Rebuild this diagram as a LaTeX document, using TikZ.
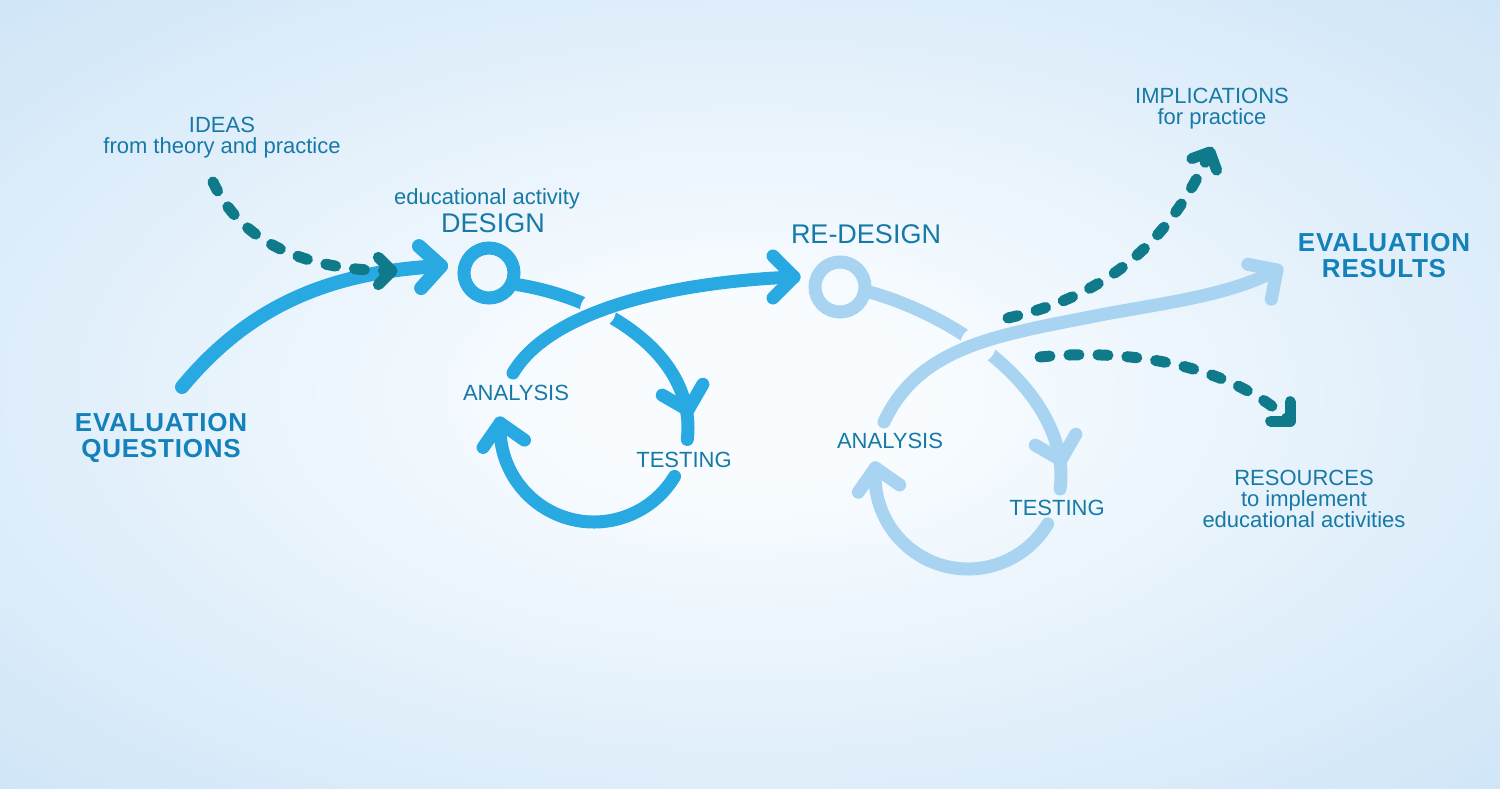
\documentclass[tikz,border=0pt]{standalone}
\usepackage{fontspec}
\setmainfont{Liberation Sans}
\usetikzlibrary{positioning}

\definecolor{bluearr}{HTML}{29A9E1}
\definecolor{lightarr}{HTML}{A8D4F2}
\definecolor{darkdash}{HTML}{0E7A8A}
\definecolor{txt}{HTML}{1679A6}
\definecolor{boldtxt}{HTML}{1381BA}
\definecolor{bgin}{HTML}{F8FCFF}
\definecolor{bgout}{HTML}{CFE5F7}
\pgfdeclareradialshading{backdrop}{\pgfpoint{0bp}{0bp}}{color(0bp)=(bgin); color(6bp)=(bgin); color(36bp)=(bgout); color(50bp)=(bgout)}

\begin{document}
\begin{tikzpicture}[
    x=1pt, y=-1pt,
    flow/.style={line width=14pt, line cap=round, draw=bluearr},
    loopline/.style={line width=13pt, line cap=round},
    dashline/.style={draw=darkdash, line width=11pt, line cap=round, dash pattern=on 10pt off 19pt},
    ring/.style={circle, draw, line width=13pt, minimum size=50pt, inner sep=0pt},
    lbl/.style={font=\fontsize{22}{21}\selectfont, text=txt, inner sep=0pt, align=center},
    head/.style={font=\fontsize{27}{29}\selectfont, text=txt, inner sep=0pt},
    result/.style={font=\fontsize{26}{26}\selectfont\bfseries\addfontfeature{LetterSpace=3}, text=boldtxt, inner sep=0pt, align=center},
    chev/.pic={\draw[line cap=round, line join=round] (-21,-21) -- (0,0) -- (-21,21);}
  ]
    % Background
    \shade[shading=backdrop] (0,0) rectangle (1500,789);

    % Rings
    \node[ring, draw=bluearr] (designring) at (489,273) {};
    \node[ring, draw=lightarr] (redesignring) at (840,287) {};

    % Coordinates
    \coordinate (qstart) at (182,387);
    \coordinate (qtip) at (441,266);
    \coordinate (istart) at (213,182);
    \coordinate (itip) at (392,271);
    \coordinate (lcen) at (594,428);
    \coordinate (dstart) at (513,373);
    \coordinate (dtip) at (794,277);
    \coordinate (rcen) at (968,476);
    \coordinate (jstart) at (884,422);
    \coordinate (jmid) at (1100,315);
    \coordinate (jtip) at (1277,270);
    \coordinate (pstart) at (1008,318);
    \coordinate (ptip) at (1210,152);
    \coordinate (sstart) at (1040,357);
    \coordinate (stip) at (1290,421);

    % Evaluation questions -> design
    \draw[flow] (qstart) .. controls (250,305) and (330,272) .. (qtip);
    \pic[bluearr, line width=14pt, rotate=3] at (qtip) {chev};

    % First loop (under the re-design line)
    \begin{scope}[even odd rule]
      \clip (0,0) rectangle (1500,789) (598,310) circle[radius=18];
      \draw[loopline, bluearr] (designring.-22) .. controls (600,298) and (688,350) .. (688,428)
        arc[start angle=0, end angle=7, radius=94];
    \end{scope}
    \draw[loopline, bluearr] ([shift={(31:94)}]lcen) arc[start angle=31, end angle=183, radius=94] coordinate (ltipa);
    \pic[bluearr, line width=13pt, rotate=-75] at (688,410) {chev};
    \pic[bluearr, line width=13pt, rotate=100] at (ltipa) {chev};

    % Analysis -> re-design
    \draw[loopline, bluearr] (dstart) .. controls (545,318) and (650,283) .. (dtip);
    \pic[bluearr, line width=13pt] at (dtip) {chev};

    % Second loop (under the results line)
    \begin{scope}[even odd rule]
      \clip (0,0) rectangle (1500,789) (978,345) circle[radius=18];
      \draw[loopline, lightarr] (redesignring.-10) .. controls (960,318) and (1061,390) .. (1061,476)
        arc[start angle=0, end angle=8, radius=93];
    \end{scope}
    \draw[loopline, lightarr] ([shift={(31:93)}]rcen) arc[start angle=31, end angle=185, radius=93] coordinate (rtipa);
    \pic[lightarr, line width=13pt, rotate=-75] at (1061,460) {chev};
    \pic[lightarr, line width=13pt, rotate=100] at (rtipa) {chev};

    % Analysis -> evaluation results
    \draw[loopline, lightarr] (jstart) .. controls (920,345) and (1000,335) .. (jmid)
      .. controls (1170,302) and (1230,295) .. (jtip);
    \pic[lightarr, line width=13pt, rotate=34] at (jtip) {chev};

    % Dashed inputs and outputs
    \draw[dashline] (istart) .. controls (240,240) and (300,270) .. (itip);
    \pic[darkdash, line width=11pt, scale=0.65] at (itip) {chev};
    \draw[dashline] (pstart) .. controls (1110,295) and (1170,240) .. (ptip);
    \pic[darkdash, line width=11pt, scale=0.65, rotate=65] at (ptip) {chev};
    \draw[dashline] (sstart) .. controls (1130,348) and (1230,365) .. (stip);
    \pic[darkdash, line width=11pt, scale=0.65, rotate=-45] at (stip) {chev};

    % Labels
    \node[lbl, anchor=north] (ideas) at (222,117) {IDEAS\\from theory and practice};
    \node[head, anchor=base] (design) at (493,232) {DESIGN};
    \node[lbl, above=4pt of design, xshift=-6pt] (activity) {educational activity};
    \node[head, anchor=base] (redesign) at (866,243) {RE-DESIGN};
    \node[result, anchor=north] (evalq) at (161,413) {EVALUATION\\QUESTIONS};
    \node[result, anchor=north] (evalr) at (1384,233) {EVALUATION\\RESULTS};
    \node[lbl, anchor=base] (analysisl) at (516,400) {ANALYSIS};
    \node[lbl, anchor=base] (testingl) at (684,467) {TESTING};
    \node[lbl, anchor=base] (analysisr) at (890,448) {ANALYSIS};
    \node[lbl, anchor=base] (testingr) at (1057,515) {TESTING};
    \node[lbl, anchor=north] (implications) at (1212,88) {IMPLICATIONS\\for practice};
    \node[lbl, anchor=north] (resources) at (1304,470) {RESOURCES\\to implement\\educational activities};

  \end{tikzpicture}
\end{document}
